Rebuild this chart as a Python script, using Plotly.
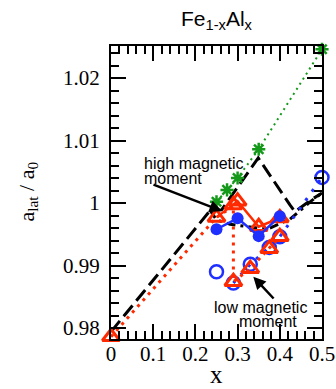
import plotly.graph_objects as go

# ---- data ----
green_x = [0.25, 0.275, 0.3, 0.35, 0.5]
green_y = [1.0002, 1.0021, 1.0040, 1.0086, 1.0246]

dashA_x = [0.0, 0.2, 0.235, 0.262, 0.349, 0.424, 0.436, 0.474, 0.5]
dashA_y = [0.9794, 0.9958, 0.9988, 0.9989, 1.0072, 0.9997, 0.9986, 1.0005, 1.0016]

dashB_x = [0.235, 0.25, 0.282, 0.37, 0.424, 0.474, 0.5]
dashB_y = [0.9988, 0.9973, 0.9966, 0.9958, 0.9974, 1.0003, 1.0016]

blue_hi_x = [0.25, 0.3, 0.35, 0.4]
blue_hi_y = [0.9958, 0.99755, 0.9947, 0.9979]

red_hi_x = [0.25, 0.29, 0.3, 0.35, 0.4]
red_hi_y = [0.9977, 0.9997, 1.0003, 0.9962, 0.9976]

red_path_x = [0.0, 0.25, 0.29, 0.29, 0.33, 0.375, 0.4]
red_path_y = [0.9786, 0.9977, 0.9995, 0.9874, 0.9895, 0.9927, 0.9946]

red_lo_x = [0.0, 0.29, 0.33, 0.375, 0.4]
red_lo_y = [0.9786, 0.9874, 0.9895, 0.9927, 0.9946]

blue_lo_x = [0.25, 0.29, 0.33, 0.375, 0.4, 0.5]
blue_lo_y = [0.9890, 0.9872, 0.9902, 0.9929, 0.9946, 1.0041]
blue_lo_line_x = [0.29, 0.33, 0.375, 0.4, 0.5]
blue_lo_line_y = [0.9872, 0.9902, 0.9929, 0.9946, 1.0041]

x_ticks = [0, 0.1, 0.2, 0.3, 0.4, 0.5]
x_ticktext = ["0", "0.1", "0.2", "0.3", "0.4", "0.5"]
y_ticks = [0.98, 0.99, 1.0, 1.01, 1.02]
y_ticktext = ["0.98", "0.99", "1", "1.01", "1.02"]

RED = "#ff2a00"
BLUE = "#1f2fff"
GREEN = "#15991a"
SERIF = "Liberation Serif, Times New Roman, DejaVu Serif, serif"
SANS = "Liberation Sans, Arial, Helvetica, sans-serif"

fig = go.Figure()

fig.add_trace(go.Scatter(x=dashA_x, y=dashA_y, mode="lines",
                         line=dict(color="black", width=3, dash="14px,6px")))
fig.add_trace(go.Scatter(x=dashB_x, y=dashB_y, mode="lines",
                         line=dict(color="black", width=3, dash="9px,5px,3px,5px")))
fig.add_trace(go.Scatter(x=green_x, y=green_y, mode="lines+markers",
                         line=dict(color=GREEN, width=2, dash="2px,4px"),
                         marker=dict(symbol="asterisk-open", size=11, color=GREEN,
                                     line=dict(color=GREEN, width=2.5)),
                         cliponaxis=False))
fig.add_trace(go.Scatter(x=blue_lo_line_x, y=blue_lo_line_y, mode="lines",
                         line=dict(color=BLUE, width=3, dash="3px,8px")))
fig.add_trace(go.Scatter(x=blue_lo_x, y=blue_lo_y, mode="markers",
                         marker=dict(symbol="circle-open", size=13, color=BLUE,
                                     line=dict(color=BLUE, width=2.5)),
                         cliponaxis=False))
fig.add_trace(go.Scatter(x=red_path_x, y=red_path_y, mode="lines",
                         line=dict(color=RED, width=3, dash="3px,5px")))
fig.add_trace(go.Scatter(x=red_lo_x, y=red_lo_y, mode="markers",
                         marker=dict(symbol="triangle-up-open", size=15, color=RED,
                                     line=dict(color=RED, width=3)),
                         cliponaxis=False))
fig.add_trace(go.Scatter(x=red_hi_x, y=red_hi_y, mode="lines+markers",
                         line=dict(color=RED, width=2.5),
                         marker=dict(symbol="triangle-up-open", size=15, color=RED,
                                     line=dict(color=RED, width=3))))
fig.add_trace(go.Scatter(x=blue_hi_x, y=blue_hi_y, mode="lines+markers",
                         line=dict(color=BLUE, width=2.5),
                         marker=dict(symbol="circle", size=12, color=BLUE)))

axis_common = dict(
    showline=True, linecolor="black", linewidth=2, mirror="ticks",
    ticks="inside", ticklen=15, tickwidth=2, tickcolor="black",
    showgrid=False, zeroline=False, automargin=False,
    tickfont=dict(family=SERIF, size=21, color="black"),
)

fig.update_xaxes(range=[0, 0.5], tickvals=x_ticks, ticktext=x_ticktext,
                 minor=dict(dtick=0.02, tick0=0, ticklen=8, tickwidth=2,
                            tickcolor="black", ticks="inside"),
                 ticklabelstandoff=-5,
                 **axis_common)
fig.update_yaxes(range=[0.97824, 1.02512], tickvals=y_ticks, ticktext=y_ticktext,
                 minor=dict(dtick=0.002, tick0=0.98, ticklen=8, tickwidth=2,
                            tickcolor="black", ticks="inside"),
                 ticklabelstandoff=5,
                 **axis_common)

ann_font = dict(family=SANS, size=16, color="black")
annotations = [
    dict(text="Fe<sub>1-x</sub>Al<sub>x</sub>", xref="paper", yref="paper", x=0.5, y=1.09,
         xanchor="center", yanchor="middle", showarrow=False,
         font=dict(family=SANS, size=21, color="black")),
    dict(text="x", xref="paper", yref="paper", x=0.5, y=-0.121, xanchor="center", yanchor="middle",
         showarrow=False, font=dict(family=SERIF, size=25, color="black")),
    dict(text="a<sub>lat</sub> / a<sub>0</sub>", xref="paper", yref="paper", x=-0.395, y=0.502,
         xanchor="center", yanchor="middle", textangle=-90, showarrow=False,
         font=dict(family=SERIF, size=22, color="black")),
    dict(text="high magnetic", x=0.0727, y=1.0064, xanchor="left", yanchor="middle",
         showarrow=False, font=ann_font),
    dict(text="moment", x=0.0727, y=1.00395, xanchor="left", yanchor="middle",
         showarrow=False, font=ann_font),
    dict(text="low magnetic", x=0.2386, y=0.98335, xanchor="left", yanchor="middle",
         showarrow=False, font=ann_font),
    dict(text="moment", x=0.2979, y=0.98112, xanchor="left", yanchor="middle",
         showarrow=False, font=ann_font),
    dict(text="", x=0.263, y=0.99872, ax=0.0972, ay=1.00304, axref="x", ayref="y",
         showarrow=True, arrowhead=2, arrowsize=1, arrowwidth=2.5, arrowcolor="black"),
    dict(text="", x=0.3372, y=0.98821, ax=0.3886, ay=0.98448, axref="x", ayref="y",
         showarrow=True, arrowhead=2, arrowsize=1, arrowwidth=2.5, arrowcolor="black"),
]

fig.update_layout(
    width=336, height=389,
    margin=dict(l=111, r=14, t=46, b=50),
    paper_bgcolor="white", plot_bgcolor="white",
    showlegend=False,
    annotations=annotations,
)

fig.write_html("out.html", config={"displayModeBar": False},
               post_script="document.body.style.margin='0';document.body.style.overflow='hidden';")
